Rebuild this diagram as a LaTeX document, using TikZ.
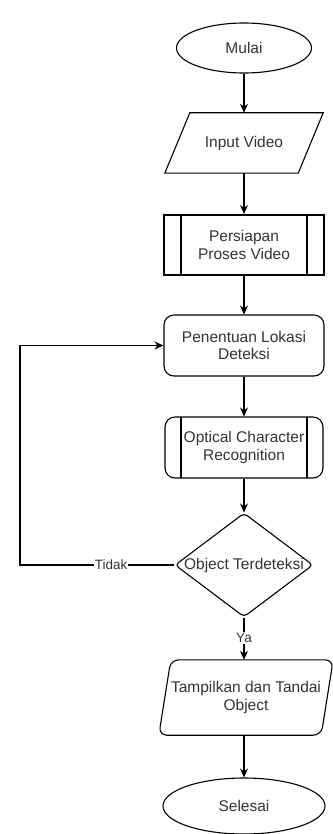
\documentclass[tikz,border=0pt]{standalone}
\usepackage{fontspec}
\setmainfont{Liberation Sans}
\usetikzlibrary{shapes.geometric, arrows.meta}
\definecolor{txtgray}{RGB}{51,51,51}

\begin{document}
\begin{tikzpicture}[x=1pt, y=-1pt,
	every node/.style={font=\fontsize{15.5}{17.5}\selectfont, text=txtgray, align=center},
	terminal/.style={ellipse, draw, line width=1.1pt, inner sep=0pt},
	inout/.style={rectangle, inner sep=0pt},
	outline/.style={line width=1.1pt},
	procbox/.style={rectangle, rounded corners=10pt, draw, line width=1.1pt, minimum width=160pt, minimum height=61pt, inner sep=0pt},
	subproc/.style={rectangle, draw, inner sep=0pt, path picture={
		\draw ([xshift=#1]path picture bounding box.north west) -- ([xshift=#1]path picture bounding box.south west);
		\draw ([xshift=-#1]path picture bounding box.north east) -- ([xshift=-#1]path picture bounding box.south east);}},
	decision/.style={diamond, draw, line width=1.1pt, rounded corners=4pt, inner sep=0pt},
	lbl/.style={font=\fontsize{13.5}{15}\selectfont, fill=white, inner sep=1pt},
	arr/.style={-{Stealth[length=9pt, width=8pt]}, line width=1.1pt}]
	\useasboundingbox (0,0) rectangle (332,834);
	% Nodes:
	\node[terminal, minimum width=135pt, minimum height=50pt] (mulai) at (244,48) {Mulai};
	\node[inout, minimum width=133pt, minimum height=60pt] (input) at (244,143) {Input Video};
	\draw[outline] ([xshift=12.5pt]input.north west) -- ([xshift=12.5pt]input.north east) -- ([xshift=-12.5pt]input.south east) -- ([xshift=-12.5pt]input.south west) -- cycle;
	\node[subproc=17pt, line width=2pt, minimum width=160pt, minimum height=60pt] (siap) at (244,245) {Persiapan\\Proses Video};
	\node[procbox] (lokasi) at (244,345.5) {Penentuan Lokasi\\Deteksi};
	\node[subproc=16pt, rounded corners=10pt, line width=1.1pt, minimum width=158pt, minimum height=61pt] (ocr) at (244,447.5) {Optical Character\\Recognition};
	\node[decision, minimum width=138pt, minimum height=104pt, label=center:Object Terdeteksi] (cek) at (244,565) {};
	\node[inout, minimum width=162pt, minimum height=75pt] (tampil) at (246,697.5) {Tampilkan dan Tandai\\Object};
	\draw[outline, rounded corners=8pt] ([xshift=6pt]tampil.north west) -- ([xshift=6pt]tampil.north east) -- ([xshift=-6pt]tampil.south east) -- ([xshift=-6pt]tampil.south west) -- cycle;
	\node[terminal, minimum width=162pt, minimum height=56pt] (selesai) at (244,806) {Selesai};
	\coordinate (balik) at (20,565);
	% Connectors:
	\draw[arr] (mulai) -- (input);
	\draw[arr] (input) -- (siap);
	\draw[arr] (siap) -- (lokasi);
	\draw[arr] (lokasi) -- (ocr);
	\draw[arr] (ocr) -- (cek);
	\draw[arr] (cek) -- node[lbl, pos=0.48] {Ya} (cek |- tampil.north);
	\draw[arr] (cek.west) -- node[lbl, pos=0.41] {Tidak} (balik) |- (lokasi.west);
	\draw[arr] (tampil.south -| selesai.north) -- (selesai);
\end{tikzpicture}
\end{document}
